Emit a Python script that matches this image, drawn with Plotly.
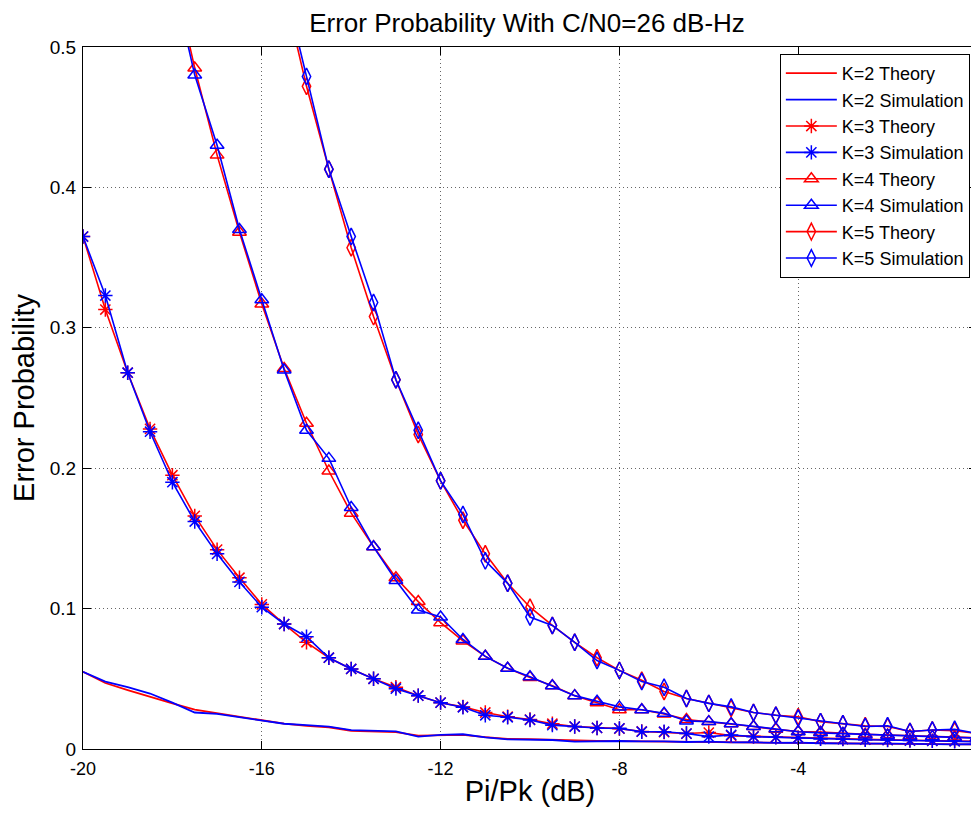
import plotly.graph_objects as go

x_db = [-20, -19.5, -19, -18.5, -18, -17.5, -17, -16.5, -16, -15.5, -15, -14.5, -14, -13.5, -13,
        -12.5, -12, -11.5, -11, -10.5, -10, -9.5, -9, -8.5, -8, -7.5, -7, -6.5, -6, -5.5, -5,
        -4.5, -4, -3.5, -3, -2.5, -2, -1.5, -1, -0.5, 0]

k2_theory = [0.055, 0.047, 0.042, 0.037, 0.0325, 0.028, 0.0255, 0.023, 0.020, 0.018,
             0.0165, 0.0155, 0.013, 0.0125, 0.012, 0.0095, 0.0098, 0.010, 0.0085, 0.0072,
             0.007, 0.0065, 0.006, 0.0058, 0.0056, 0.0055, 0.0054, 0.0052, 0.005, 0.0048,
             0.0047, 0.0045, 0.0044, 0.0042, 0.004, 0.0039, 0.0037, 0.0036, 0.0035, 0.0034, 0.0033]
k2_sim = [0.055, 0.048, 0.044, 0.0395, 0.033, 0.026, 0.025, 0.0225, 0.020, 0.018,
          0.017, 0.016, 0.0135, 0.013, 0.0125, 0.0088, 0.010, 0.0105, 0.0083, 0.0069,
          0.0069, 0.0064, 0.0052, 0.0057, 0.0057, 0.0054, 0.0055, 0.005, 0.0052, 0.0047,
          0.0048, 0.0043, 0.0045, 0.0041, 0.0042, 0.0038, 0.0038, 0.0035, 0.0036, 0.0033, 0.0034]

k3_theory = [0.365, 0.313, 0.268, 0.228, 0.195, 0.166, 0.142, 0.122, 0.103, 0.089,
             0.076, 0.065, 0.057, 0.050, 0.044, 0.038, 0.033, 0.030, 0.026, 0.023,
             0.021, 0.018, 0.016, 0.015, 0.0145, 0.0125, 0.012, 0.011, 0.0117, 0.0095,
             0.009, 0.0085, 0.008, 0.0075, 0.0072, 0.0068, 0.0065, 0.0062, 0.006, 0.0058, 0.0055]
k3_sim = [0.365, 0.323, 0.268, 0.226, 0.190, 0.162, 0.139, 0.119, 0.101, 0.089,
          0.080, 0.065, 0.057, 0.050, 0.043, 0.038, 0.033, 0.0297, 0.024, 0.0226,
          0.0207, 0.017, 0.016, 0.015, 0.0147, 0.0123, 0.0123, 0.011, 0.0088, 0.010,
          0.0088, 0.0083, 0.008, 0.0072, 0.007, 0.0066, 0.0064, 0.006, 0.0058, 0.0055, 0.0052]

k4_theory = [None, None, None, None,
             0.555, 0.485, 0.423, 0.368, 0.317, 0.271, 0.232, 0.198, 0.168, 0.144,
             0.122, 0.105, 0.090, 0.077, 0.066, 0.0575, 0.051, 0.045, 0.038, 0.033,
             0.028, 0.028, 0.025, 0.021, 0.0195, 0.018, 0.016, 0.014, 0.0125, 0.012,
             0.011, 0.0105, 0.010, 0.0095, 0.009, 0.0085, 0.008]
k4_sim = [None, None, None, None,
          0.55, 0.480, 0.430, 0.370, 0.320, 0.270, 0.227, 0.207, 0.172, 0.144,
          0.120, 0.099, 0.094, 0.078, 0.066, 0.0575, 0.0515, 0.045, 0.038, 0.034,
          0.030, 0.028, 0.0254, 0.020, 0.0195, 0.018, 0.016, 0.0145, 0.0123, 0.0115,
          0.011, 0.010, 0.0098, 0.009, 0.0088, 0.0082, 0.0078]

k5_theory = [None] * 9 + [0.54, 0.472, 0.413, 0.357, 0.308, 0.263, 0.224, 0.191, 0.163, 0.139,
                          0.118, 0.101, 0.088, 0.076, 0.065, 0.056, 0.049, 0.041, 0.036, 0.0325,
                          0.029, 0.026, 0.024, 0.023, 0.0195, 0.018, 0.0165, 0.016, 0.0125, 0.0135,
                          0.013, 0.011]
k5_sim = [None] * 9 + [0.545, 0.479, 0.413, 0.365, 0.318, 0.263, 0.227, 0.191, 0.167, 0.134,
                       0.118, 0.094, 0.088, 0.076, 0.063, 0.056, 0.048, 0.044, 0.036, 0.0325,
                       0.030, 0.026, 0.024, 0.022, 0.0195, 0.018, 0.016, 0.0165, 0.0125, 0.0135,
                       0.014, 0.011]

x_ticks = [-20, -16, -12, -8, -4, 0]
y_ticks = [0, 0.1, 0.2, 0.3, 0.4, 0.5]
y_tick_labels = ["0", "0.1", "0.2", "0.3", "0.4", "0.5"]

RED = "#ff0000"
BLUE = "#0000ff"

series = [
    ("K=2 Theory", k2_theory, RED, None),
    ("K=2 Simulation", k2_sim, BLUE, None),
    ("K=3 Theory", k3_theory, RED, "asterisk-open"),
    ("K=3 Simulation", k3_sim, BLUE, "asterisk-open"),
    ("K=4 Theory", k4_theory, RED, "triangle-up-open"),
    ("K=4 Simulation", k4_sim, BLUE, "triangle-up-open"),
    ("K=5 Theory", k5_theory, RED, "diamond-tall-open"),
    ("K=5 Simulation", k5_sim, BLUE, "diamond-tall-open"),
]

fig = go.Figure()
for name, ys, color, sym in series:
    if sym is None:
        fig.add_trace(go.Scatter(x=x_db, y=ys, name=name, mode="lines",
                                 line=dict(color=color, width=1.8)))
    else:
        fig.add_trace(go.Scatter(x=x_db, y=ys, name=name, mode="lines+markers",
                                 line=dict(color=color, width=1.6),
                                 marker=dict(symbol=sym, size=12, color=color,
                                             line=dict(color=color, width=1.5))))

font_main = "Liberation Sans, Arial, sans-serif"

# The page body has an 8px margin, so the figure is offset by (8, 8) in the window.
fig.update_layout(
    width=971, height=799,
    margin=dict(l=75, r=2, t=39, b=58),
    paper_bgcolor="white", plot_bgcolor="white",
    title=dict(text="Error Probability With C/N0=26 dB-Hz", x=0.5345, xanchor="center",
               y=0.9812, yanchor="middle",
               font=dict(family=font_main, size=26, color="black")),
    showlegend=True,
    legend=dict(x=0.992, y=0.99, xanchor="right", yanchor="top",
                bgcolor="white", bordercolor="black", borderwidth=1,
                font=dict(family=font_main, size=18, color="black"),
                itemwidth=51, tracegroupgap=0),
    xaxis=dict(range=[-20, 0], tickvals=x_ticks, ticktext=[str(v) for v in x_ticks],
               showgrid=True, gridcolor="#666666", griddash="1px,3px", gridwidth=1,
               zeroline=False, showline=True, linecolor="black", linewidth=1, mirror="ticks",
               ticks="inside", ticklen=8, tickcolor="black", automargin=False,
               ticklabeloverflow="allow", ticklabelstandoff=3,
               tickfont=dict(family=font_main, size=18, color="black"),
               title=dict(text="Pi/Pk (dB)", standoff=4,
                          font=dict(family=font_main, size=29, color="black"))),
    yaxis=dict(range=[0, 0.5], tickvals=y_ticks, ticktext=y_tick_labels,
               showgrid=True, gridcolor="#666666", griddash="1px,3px", gridwidth=1,
               zeroline=False, showline=True, linecolor="black", linewidth=1, mirror="ticks",
               ticks="inside", ticklen=8, tickcolor="black", automargin=False,
               ticklabeloverflow="allow", ticklabelstandoff=2,
               tickfont=dict(family=font_main, size=19, color="black"),
               title=dict(text="Error Probability", standoff=6,
                          font=dict(family=font_main, size=29, color="black"))),
)

fig.write_html("out.html")
